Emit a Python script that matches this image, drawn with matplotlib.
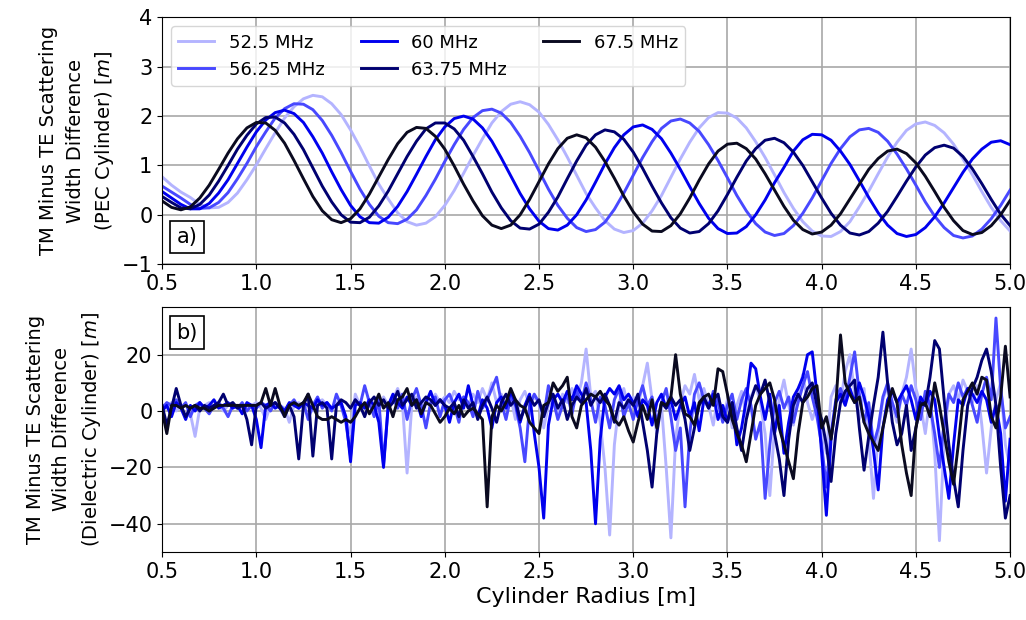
import numpy as np
import matplotlib.pyplot as plt

freqs = ['52.5 MHz', '56.25 MHz', '60 MHz', '63.75 MHz', '67.5 MHz']
colors = ['#b4b4ff', '#4848ff', '#0000ee', '#000070', '#0a0a20']

# radius samples, 0.5 m to 5.0 m
r_pec = np.linspace(0.5, 5.0, 91)
r_diel = np.linspace(0.5, 5.0, 181)

# PEC cylinder, TM minus TE width difference [m]
pec_525 = [0.77, 0.60, 0.46, 0.35, 0.21, 0.14, 0.15, 0.25, 0.44, 0.71,
           1.01, 1.34, 1.66, 1.96, 2.19, 2.35, 2.42, 2.39, 2.25, 2.03,
           1.72, 1.37, 0.99, 0.62, 0.32, 0.04, -0.14, -0.21, -0.17, -0.04,
           0.19, 0.49, 0.84, 1.20, 1.54, 1.86, 2.09, 2.24, 2.29, 2.23,
           2.08, 1.83, 1.52, 1.17, 0.80, 0.43, 0.14, -0.12, -0.29, -0.36,
           -0.32, -0.17, 0.08, 0.39, 0.76, 1.13, 1.47, 1.76, 1.97, 2.07,
           2.06, 1.96, 1.76, 1.48, 1.16, 0.81, 0.45, 0.13, -0.14, -0.33,
           -0.43, -0.44, -0.34, -0.14, 0.16, 0.48, 0.83, 1.17, 1.47, 1.71,
           1.84, 1.88, 1.81, 1.66, 1.43, 1.13, 0.81, 0.47, 0.15, -0.12,
           -0.33]
pec_5625 = [0.58, 0.46, 0.34, 0.21, 0.13, 0.14, 0.25, 0.45, 0.73, 1.04,
            1.38, 1.68, 1.96, 2.15, 2.25, 2.24, 2.13, 1.91, 1.61, 1.26,
            0.88, 0.52, 0.21, -0.03, -0.16, -0.18, -0.09, 0.10, 0.39, 0.72,
            1.08, 1.42, 1.73, 1.97, 2.11, 2.14, 2.06, 1.87, 1.59, 1.26,
            0.89, 0.52, 0.19, -0.07, -0.26, -0.34, -0.30, -0.15, 0.11, 0.44,
            0.80, 1.16, 1.48, 1.75, 1.90, 1.94, 1.86, 1.69, 1.42, 1.10,
            0.75, 0.39, 0.08, -0.18, -0.35, -0.42, -0.38, -0.22, 0.03, 0.34,
            0.69, 1.04, 1.34, 1.58, 1.72, 1.75, 1.67, 1.49, 1.23, 0.93,
            0.60, 0.26, -0.03, -0.26, -0.42, -0.47, -0.43, -0.29, -0.08, 0.19,
            0.50]
pec_60 = [0.47, 0.34, 0.21, 0.12, 0.12, 0.23, 0.44, 0.71, 1.04, 1.37,
          1.68, 1.92, 2.07, 2.12, 2.05, 1.87, 1.58, 1.25, 0.87, 0.51,
          0.19, -0.04, -0.16, -0.17, -0.05, 0.17, 0.47, 0.82, 1.18, 1.52,
          1.78, 1.95, 2.00, 1.94, 1.76, 1.49, 1.15, 0.79, 0.43, 0.12,
          -0.13, -0.28, -0.31, -0.21, 0.00, 0.30, 0.66, 1.03, 1.36, 1.62,
          1.78, 1.82, 1.73, 1.54, 1.25, 0.92, 0.57, 0.23, -0.07, -0.28,
          -0.38, -0.37, -0.24, 0.00, 0.30, 0.65, 0.96, 1.29, 1.52, 1.63,
          1.62, 1.51, 1.29, 1.02, 0.69, 0.35, 0.04, -0.21, -0.38, -0.44,
          -0.40, -0.26, -0.04, 0.24, 0.55, 0.86, 1.13, 1.33, 1.47, 1.50,
          1.42]
pec_6375 = [0.37, 0.25, 0.14, 0.12, 0.21, 0.40, 0.68, 1.00, 1.33, 1.61,
            1.84, 1.97, 1.98, 1.86, 1.63, 1.32, 0.95, 0.58, 0.26, 0.00,
            -0.15, -0.16, -0.05, 0.18, 0.48, 0.83, 1.18, 1.49, 1.74, 1.86,
            1.86, 1.74, 1.51, 1.18, 0.83, 0.46, 0.14, -0.12, -0.27, -0.29,
            -0.19, 0.05, 0.36, 0.73, 1.09, 1.41, 1.62, 1.72, 1.68, 1.53,
            1.27, 0.94, 0.58, 0.24, -0.06, -0.27, -0.37, -0.34, -0.18, 0.08,
            0.41, 0.76, 1.09, 1.34, 1.51, 1.55, 1.46, 1.27, 1.00, 0.67,
            0.34, 0.03, -0.21, -0.37, -0.41, -0.34, -0.17, 0.07, 0.37, 0.68,
            0.97, 1.21, 1.36, 1.41, 1.35, 1.18, 0.93, 0.63, 0.31, 0.01,
            -0.22]
pec_675 = [0.28, 0.15, 0.10, 0.16, 0.34, 0.60, 0.92, 1.25, 1.54, 1.76,
           1.87, 1.86, 1.71, 1.45, 1.10, 0.73, 0.37, 0.08, -0.10, -0.16,
           -0.08, 0.12, 0.42, 0.77, 1.12, 1.44, 1.67, 1.77, 1.75, 1.59,
           1.33, 0.99, 0.62, 0.28, -0.02, -0.21, -0.28, -0.21, 0.00, 0.31,
           0.67, 1.03, 1.34, 1.55, 1.62, 1.56, 1.37, 1.08, 0.74, 0.38,
           0.06, -0.19, -0.33, -0.34, -0.22, 0.02, 0.34, 0.70, 1.03, 1.29,
           1.43, 1.45, 1.34, 1.13, 0.83, 0.50, 0.17, -0.11, -0.30, -0.39,
           -0.35, -0.21, 0.02, 0.32, 0.62, 0.92, 1.14, 1.29, 1.33, 1.24,
           1.05, 0.78, 0.47, 0.15, -0.12, -0.32, -0.40, -0.36, -0.22, 0.00,
           0.29]

# dielectric cylinder, TM minus TE width difference [m]
diel_525 = [2, 1, 3, 0, 2, -2, -1, -9, 1, 2, 3, 1, 2, 0, 2, 3, 1, 2, 1, 2,
            3, 1, -3, 2, 3, 2, 1, -4, 2, 3, 1, 2, 0, 3, 4, 2, 1, 3, 2, -3,
            -8, 6, 2, 1, 4, 3, 0, 5, 2, 4, 8, 3, -22, 2, 5, 1, 4, 2, 6, 3,
            5, 3, 7, 4, 5, 2, 6, 3, 8, 4, 10, 3, 6, 1, 5, -3, 4, 7, 2, 5,
            3, -6, 2, 5, -2, 6, 3, 8, 4, 10, 22, 5, 7, -4, -20, -44, -12, 3, 8, 1,
            5, 2, 9, 17, 4, -8, 2, -20, -45, -10, 3, 9, 6, 13, 4, 8, 2, -5, 6, -3,
            4, -6, 2, 7, -2, 5, 9, 3, -8, -30, -6, 4, 11, 2, -5, 6, 13, 3, -3, 2,
            -6, -15, 5, 9, 3, 14, 20, 6, -3, 8, -10, -31, -8, 4, 9, 2, -4, 6, 12, 22,
            8, 2, -8, 5, -15, -46, -10, 6, 9, 4, 11, 7, 3, 9, -5, -22, -6, 4, 10, -12,
            -20]
diel_5625 = [1, 3, 2, 4, 1, 3, -2, 2, 3, 1, -1, 2, 3, 1, -2, 2, 1, 3, 0, 2,
             1, 3, 2, 0, 3, 1, -2, 2, 4, 1, 3, -3, 2, 5, 1, 3, 0, 6, 2, -4,
             -16, 4, 2, 9, 3, -2, 4, -19, 2, 5, 1, 6, -3, 4, 8, 2, -6, 3, 5, -2,
             4, 6, 2, -4, 5, 3, -2, 7, 1, 4, 8, 12, 3, -3, 5, 2, -6, -18, 2, 6,
             3, -2, 9, 4, -3, 2, 6, -1, 7, 3, 10, 4, -4, 5, 2, -6, 4, 8, -2, 3,
             -3, 4, 9, 2, 5, -4, 3, 8, -2, -14, -6, -34, -8, 6, 10, 4, 1, 7, 3, -4,
             2, 6, -3, 4, 8, 2, -10, -4, -31, -12, 3, 7, 1, 5, -4, 3, 9, 14, 5, -2,
             -12, -27, -8, 4, 8, 3, 12, 21, 6, -4, 3, -12, -6, 5, 10, 3, -2, 6, 2, 9,
             4, -3, 7, 2, -8, -20, -4, 6, 3, 10, 5, 8, 2, -4, 6, 12, 4, 33, 8, -6,
             -2]
diel_60 = [0, 2, -2, 3, 1, -3, 2, 0, 3, 1, 2, 4, 1, 2, 3, 1, 2, -1, 3, 2,
           -3, -13, 2, 3, 1, 2, 0, 3, 2, 1, 3, 2, 1, 4, 2, 3, 1, 2, 3, -2,
           -18, 2, 3, 1, 4, 2, -4, -20, 2, 6, 3, 1, 5, 2, 4, -2, 3, 7, 2, 4,
           2, -4, 3, 6, 1, 9, 2, -2, 4, 1, -6, 3, 5, 1, 7, 3, -4, 2, 6, -8,
           -20, -38, -5, 4, 6, 3, 7, 4, 9, 6, 3, -14, -40, -10, 5, 8, 6, 9, 4, 6,
           3, -2, 4, 2, -5, 3, 6, 1, 4, -3, 2, 5, -2, 3, -7, 4, 2, 6, -3, 2,
           -4, 3, -12, -6, 4, 17, 15, 5, -3, 6, -8, 2, -15, -4, 5, 8, 12, 20, 21, 6,
           -15, -37, -10, 3, 6, 2, 8, 3, 10, 5, -2, -14, -28, -6, 4, 7, 3, 6, 9, 4,
           -3, 5, 2, 7, 4, -9, -20, -31, -12, 4, 2, 8, 6, 3, 7, 4, -4, 2, -8, -32,
           -10]
diel_6375 = [2, -5, 1, 8, 2, -2, 1, 2, 0, 2, 1, 2, 3, 6, 2, 3, 1, 2, -3, -12,
             2, 3, 1, 2, 3, 1, -1, 2, -2, -17, 2, 6, -16, 2, 3, 1, -17, 2, 4, 3,
             1, 4, 2, -2, 3, 5, 2, 4, 1, 3, 7, 2, 4, 6, 1, 3, 5, 4, 2, 4,
             2, 1, 3, -2, 4, 1, 3, -3, 2, 5, 1, -4, 3, 6, 2, 4, -3, 1, 5, 2,
             4, -2, 3, 6, 1, 4, -3, 2, 5, 3, 8, 2, 5, 3, 6, 2, -4, 3, 1, 4,
             2, 6, -4, -14, -27, -8, 3, 1, 5, 2, 4, -3, -14, -6, 2, 5, 1, 4, 6, -2,
             -4, 3, -6, -14, -3, 4, 9, 6, 11, 3, -8, -17, -30, -10, 2, 6, 3, 8, 10, 2,
             -3, -12, -25, -8, 3, 7, 9, 11, -6, -21, -9, 2, 12, 28, 10, -4, -12, -8, 2, -14,
             -6, 3, 2, 12, 25, 22, 4, -12, -24, -34, -14, 2, 8, 12, 18, 22, 14, 2, -20, -38,
             -30]
diel_675 = [0, -8, 2, 2, 1, 2, 1, 2, 1, 1, 0, 1, 2, 2, 2, 2, 2, 2, 2, 2,
            2, 3, 8, 2, 8, 2, -2, 2, 3, 2, 3, 6, 2, -2, -3, -3, -2, -3, -4, -3,
            -4, -2, 1, 3, -1, 2, 6, 1, 3, -2, 4, 5, 8, 2, 4, -1, 3, 2, -1, -4,
            -2, 1, -1, 2, -2, 0, 1, -1, -3, -34, -2, 2, 0, 3, 8, 4, 2, 1, -4, -6,
            -8, 2, 3, 10, 7, 9, 12, -2, -6, 2, 4, 6, 5, 7, 4, 2, -3, -5, -2, -7,
            -11, -4, 2, -3, 4, -6, 3, 2, 5, 20, 6, -1, -2, -5, 3, 5, 6, 2, 15, 14,
            6, -3, -8, -12, -18, -8, 2, 6, 8, 10, 4, -6, -12, -18, -24, -8, 3, 5, 8, 9,
            -6, -2, -10, 2, 27, 10, 6, 3, 5, -4, -8, -11, -14, -6, 2, 8, 3, -12, -22, -30,
            -6, 2, 3, -2, 10, 2, -8, -18, -26, -12, 4, 7, 10, 6, 12, 11, -2, -6, 5, 23,
            5]

pec = [pec_525, pec_5625, pec_60, pec_6375, pec_675]
diel = [diel_525, diel_5625, diel_60, diel_6375, diel_675]

fig = plt.figure(figsize=(10.26, 6.2), dpi=100)
ax1 = fig.add_axes([0.158, 0.574, 0.8265, 0.398])
ax2 = fig.add_axes([0.158, 0.110, 0.8265, 0.395])

for name, col, y in zip(freqs, colors, pec):
    ax1.plot(r_pec, y, color=col, lw=2.1, label=name)
for name, col, y in zip(freqs, colors, diel):
    ax2.plot(r_diel, y, color=col, lw=2.1, label=name)

ax1.set_xlim(0.5, 5.0)
ax1.set_ylim(-1, 4)
ax1.set_yticks([-1, 0, 1, 2, 3, 4])
ax2.set_xlim(0.5, 5.0)
ax2.set_yticks([-40, -20, 0, 20])

for ax in (ax1, ax2):
    ax.set_xticks(np.arange(0.5, 5.01, 0.5))
    ax.grid(True, color='#a8a8a8', lw=1.2)
    ax.tick_params(labelsize=15)

ax1.set_ylabel('TM Minus TE Scattering\nWidth Difference\n(PEC Cylinder) [$m$]',
               fontsize=14, linespacing=1.5)
ax2.set_ylabel('TM Minus TE Scattering\nWidth Difference\n(Dielectric Cylinder) [$m$]',
               fontsize=14, linespacing=1.5)
ax2.set_xlabel('Cylinder Radius [m]', fontsize=16)

ax1.legend(loc='upper left', ncol=3, fontsize=13)

box = dict(boxstyle='square,pad=0.3', facecolor='white', edgecolor='black', lw=1.2)
ax1.text(0.017, 0.11, 'a)', transform=ax1.transAxes, fontsize=15, bbox=box, va='center')
ax2.text(0.017, 0.895, 'b)', transform=ax2.transAxes, fontsize=15, bbox=box, va='center')

fig.savefig('out.png', dpi=100)
